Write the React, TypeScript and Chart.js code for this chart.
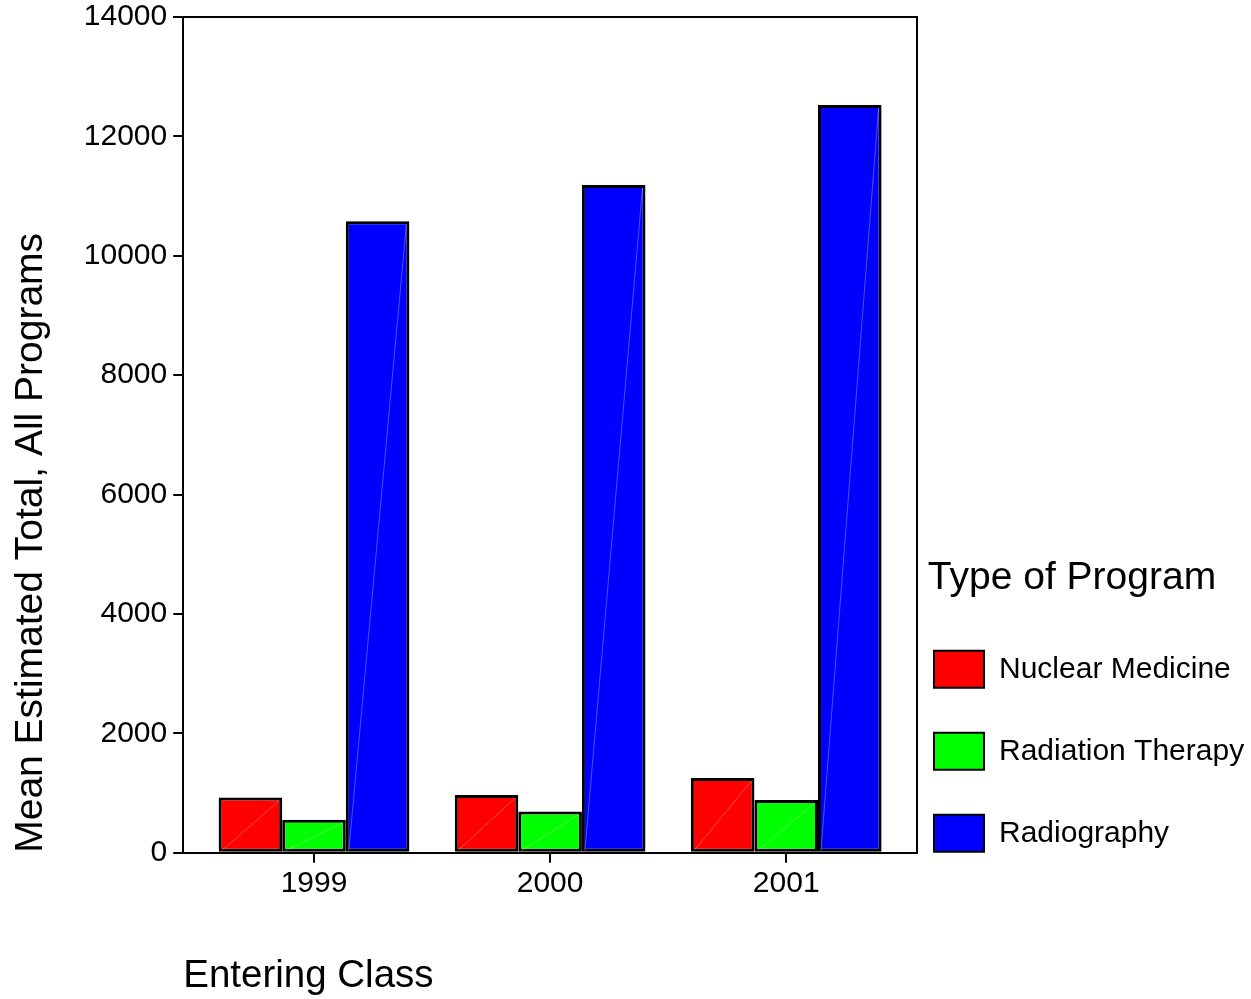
import React, { useEffect, useRef } from "react";
import { Chart, registerables } from "chart.js";

Chart.register(...registerables);

const years = [1999, 2000, 2001];
const nuclearMedicine = [925, 970, 1255];
const radiationTherapy = [555, 690, 885];
const radiography = [10580, 11185, 12525];
const seriesNames = ["Nuclear Medicine", "Radiation Therapy", "Radiography"];
const seriesColors = ["#FF0000", "#00FF00", "#0000FF"];
const yTicks = [0, 2000, 4000, 6000, 8000, 10000, 12000, 14000];

const FONT = "Arial, 'Liberation Sans', sans-serif";

const framePlugin = {
  id: "frame",
  afterDraw(chart: any) {
    const { ctx, chartArea } = chart;
    ctx.save();
    ctx.strokeStyle = "#000";
    ctx.lineWidth = 2;
    ctx.beginPath();
    ctx.moveTo(chartArea.left - 10, chartArea.top);
    ctx.lineTo(chartArea.right, chartArea.top);
    ctx.lineTo(chartArea.right, chartArea.bottom);
    ctx.stroke();
    ctx.restore();
  },
};

const diagonalPlugin = {
  id: "diagonal",
  afterDatasetsDraw(chart: any) {
    const { ctx } = chart;
    ctx.save();
    ctx.strokeStyle = "rgba(255,255,255,0.3)";
    ctx.lineWidth = 1;
    chart.data.datasets.forEach((_d: any, i: number) => {
      const meta = chart.getDatasetMeta(i);
      meta.data.forEach((el: any) => {
        const p = el.getProps(["x", "y", "base", "width"], true);
        ctx.beginPath();
        ctx.moveTo(p.x - p.width / 2 + 3, p.base - 1);
        ctx.lineTo(p.x + p.width / 2 - 3, p.y + 3);
        ctx.stroke();
      });
    });
    ctx.restore();
  },
};

export default function App() {
  const ref = useRef<HTMLCanvasElement | null>(null);
  useEffect(() => {
    if (!ref.current) return;
    const seriesValues = [nuclearMedicine, radiationTherapy, radiography];
    const chart = new Chart(ref.current, {
      type: "bar",
      data: {
        datasets: seriesValues.map((vals, i) => ({
          label: seriesNames[i],
          data: years.map((yr, j) => ({ x: yr, y: vals[j] })),
          backgroundColor: seriesColors[i],
          borderColor: "#000",
          borderWidth: 3,
          borderSkipped: false,
          categoryPercentage: 0.808,
          barPercentage: 1.0,
        })),
      } as any,
      plugins: [framePlugin, diagonalPlugin],
      options: {
        animation: false,
        responsive: true,
        maintainAspectRatio: false,
        layout: { padding: { top: 17, left: 0, right: 0, bottom: 0 } },
        plugins: {
          tooltip: { enabled: false },
          legend: {
            display: true,
            position: "right",
            align: "start",
            fullSize: true,
            maxWidth: 334,
            title: {
              display: true,
              text: " Type of Program",
              color: "#000",
              position: "start",
              font: { family: FONT, size: 39 },
              padding: { top: 542, bottom: 28 },
            },
            labels: {
              color: "#000",
              boxWidth: 50,
              boxHeight: 37,
              padding: 17,
              font: { family: FONT, size: 30, lineHeight: "65px" },
              generateLabels(chart: any) {
                const items = Chart.defaults.plugins.legend.labels.generateLabels(chart);
                return items.map((it: any) => ({ ...it, text: [it.text], lineWidth: 2 }));
              },
            },
          } as any,
        },
        scales: {
          x: {
            type: "linear",
            min: 1998.446,
            max: 2001.554,
            offset: false,
            afterBuildTicks(scale: any) {
              scale.ticks = years.map((v) => ({ value: v }));
            },
            afterFit(scale: any) {
              scale.paddingLeft = 0;
              scale.paddingRight = 0;
            },
            grid: {
              drawOnChartArea: false,
              drawTicks: true,
              tickLength: 10,
              color: "#000",
              lineWidth: 2,
              offset: false,
            },
            border: { color: "#000", width: 2 },
            ticks: {
              color: "#000",
              padding: 3,
              font: { family: FONT, size: 30 },
              callback: (v: any) => String(v),
            },
            title: {
              display: true,
              text: "Entering Class",
              align: "start",
              color: "#000",
              font: { family: FONT, size: 38.5 },
              padding: { top: 48, bottom: 0 },
            },
          },
          y: {
            type: "linear",
            min: yTicks[0],
            max: yTicks[yTicks.length - 1],
            afterBuildTicks(scale: any) {
              scale.ticks = yTicks.map((v) => ({ value: v }));
            },
            afterFit(scale: any) {
              scale.paddingTop = 0;
              scale.paddingBottom = 0;
            },
            grid: {
              drawOnChartArea: false,
              drawTicks: true,
              tickLength: 10,
              color: "#000",
              lineWidth: 2,
            },
            border: { color: "#000", width: 2 },
            ticks: {
              color: "#000",
              padding: 6,
              font: { family: FONT, size: 30 },
              callback: (v: any) => String(v),
            },
            title: {
              display: true,
              text: "Mean Estimated Total, All Programs",
              align: "start",
              color: "#000",
              font: { family: FONT, size: 39 },
              padding: { top: 8, bottom: 23 },
            },
          },
        },
      } as any,
    });
    return () => chart.destroy();
  }, []);
  return (
    <div style={{ position: "absolute", left: 0, top: 0, width: 1251, height: 999, background: "#fff" }}>
      <canvas ref={ref} />
    </div>
  );
}
